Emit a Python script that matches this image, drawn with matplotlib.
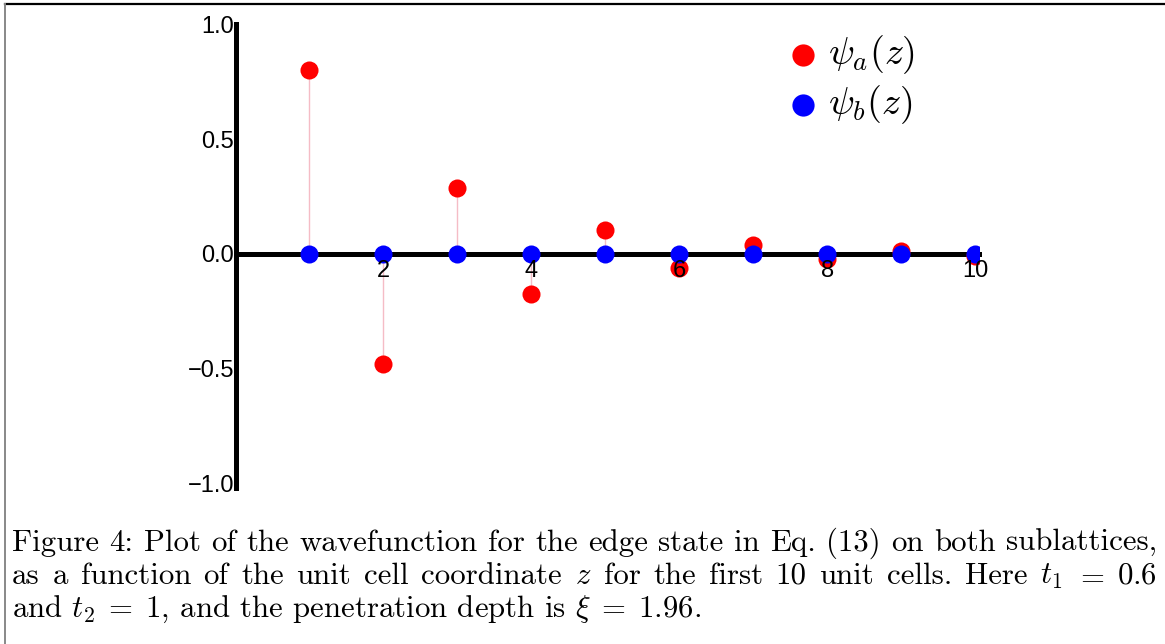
import matplotlib
matplotlib.use("Agg")
import matplotlib.pyplot as plt
from matplotlib.lines import Line2D

# Edge-state amplitudes on the two sublattices, first 10 unit cells
z = [1, 2, 3, 4, 5, 6, 7, 8, 9, 10]
psi_a = [0.80, -0.48, 0.288, -0.173, 0.104, -0.062, 0.037, -0.022, 0.013, -0.008]
psi_b = [0.0, 0.0, 0.0, 0.0, 0.0, 0.0, 0.0, 0.0, 0.0, 0.0]

x_ticks = [2, 4, 6, 8, 10]
y_ticks = [-1.0, -0.5, 0.0, 0.5, 1.0]
legend_labels = [r"$\psi_a(z)$", r"$\psi_b(z)$"]

caption_lines = [
    "Figure 4: Plot of the wavefunction for the edge state in Eq. (13) on both sublattices,",
    "as a function of the unit cell coordinate $z$ for the first 10 unit cells. Here $t_1$ $=$ $0.6$",
    r"and $t_2\;=\;1$, and the penetration depth is $\xi\;=\;1.96$.",
]

plt.rcParams["mathtext.fontset"] = "cm"
plt.rcParams["axes.unicode_minus"] = True

W, H = 1165, 644
fig = plt.figure(figsize=(W / 100, H / 100), dpi=100)

# axes placed in pixel units
x0_px, x1_px = 235.5, 979.0
top_px, bot_px = 24.0, 488.0
ax = fig.add_axes([x0_px / W, 1 - bot_px / H, (x1_px - x0_px) / W, (bot_px - top_px) / H])
ax.patch.set_visible(False)
ax.set_xlim(0, 10.05)
ax.set_ylim(-1.02, 1.002)

for side in ("top", "right"):
    ax.spines[side].set_visible(False)
ax.spines["left"].set_position(("data", 0))
ax.spines["bottom"].set_position(("data", 0))
for side in ("left", "bottom"):
    ax.spines[side].set_linewidth(3.6)
    ax.spines[side].set_color("black")
    ax.spines[side].set_zorder(2.5)

# thin stems from the axis to each point
ax.vlines(z, 0, psi_a, color="#f5bcc6", lw=1.0, zorder=1)
ax.vlines(z, 0, psi_b, color="#bcbcf5", lw=1.0, zorder=1)

la, = ax.plot(z, psi_a, "o", color="#ff0000", ms=13, mec="none", zorder=3)
lb, = ax.plot(z, psi_b, "o", color="#0000ff", ms=13, mec="none", zorder=3.1)

ax.set_xticks(x_ticks)
ax.set_xticklabels([str(v) for v in x_ticks])
ax.set_yticks(y_ticks)
ax.set_yticklabels([f"{v:.1f}".replace("-", "\u2212") for v in y_ticks])
ax.tick_params(axis="both", length=0, labelsize=17)
ax.tick_params(axis="x", pad=4.5)
ax.tick_params(axis="y", pad=1)
for lab in ax.get_xticklabels() + ax.get_yticklabels():
    lab.set_fontfamily(["Liberation Sans", "DejaVu Sans"])
ax.xaxis.set_zorder(5)
ax.yaxis.set_zorder(5)

# legend keys and labels
for (mx, my), handle, label in zip([(803, 55), (803, 105)], [la, lb], legend_labels):
    fig.add_artist(Line2D([mx / W], [1 - my / H], marker="o", ms=16, mec="none",
                          color=handle.get_color(), linestyle="none",
                          transform=fig.transFigure))
    fig.text(828 / W, 1 - my / H, label, fontsize=27.5, ha="left", va="center")

# frame lines around the figure
fig.add_artist(Line2D([4.5 / W, 1], [1 - 3.5 / H, 1 - 3.5 / H], color="black", lw=1.6,
                      transform=fig.transFigure))
fig.add_artist(Line2D([4.5 / W, 4.5 / W], [0, 1 - 3.5 / H], color="#888888", lw=1.4,
                      transform=fig.transFigure))

# justified caption
cap_size = 22.2
left_px, right_px = 12.0, 1157.0
baselines = [551, 584, 617]
renderer = fig.canvas.get_renderer()


def place_justified(text, y_px):
    words = text.split(" ")
    arts = [fig.text(0, 1 - y_px / H, w, fontsize=cap_size, family="cmr10",
                     va="baseline", ha="left") for w in words]
    widths = [a.get_window_extent(renderer).width for a in arts]
    gap = (right_px - left_px - sum(widths)) / (len(words) - 1)
    x = left_px
    for a, w in zip(arts, widths):
        a.set_x(x / W)
        x += w + gap


place_justified(caption_lines[0], baselines[0])
place_justified(caption_lines[1], baselines[1])
fig.text(left_px / W, 1 - baselines[2] / H, caption_lines[2], fontsize=cap_size,
         family="cmr10", va="baseline", ha="left")

fig.savefig("out.png", dpi=100)
